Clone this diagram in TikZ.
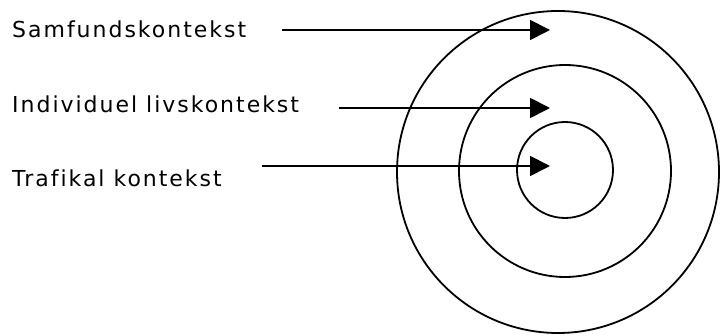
\documentclass[tikz,border=0pt]{standalone}
\usepackage{fontspec}
\setmainfont{DejaVu Sans}[LetterSpace=9,Ligatures=NoCommon]
\usepackage{tikz}
\usetikzlibrary{arrows.meta}

\tikzset{
  lbl/.style={anchor=base west, inner sep=0pt, font=\fontsize{22}{26}\selectfont},
  ring/.style={line width=1.8pt},
  pointer/.style={line width=1.8pt, -{Triangle[length=20pt,width=20pt]}}
}

\begin{document}
\begin{tikzpicture}[x=1pt,y=-1pt]
        \useasboundingbox (0,0) rectangle (720,336);
        % Define coordinates
        \coordinate (S) at (282,30);
        \coordinate (I) at (339,108);
        \coordinate (T) at (262,166);
        \coordinate (Sx) at (550,30);
        \coordinate (Ix) at (550,108);
        \coordinate (Tx) at (550,166);
        % Labels
        \node[lbl] (samf) at (12,38) {Samfundskontekst};
        \node[lbl] (indiv) at (12,113) {Individuel livskontekst};
        \node[lbl] (traf) at (12,187) {Trafikal kontekst};
        % Draw the rings
        \draw[ring] (558,172) circle (161);
        \draw[ring] (565,171) circle (106);
        \draw[ring] (565,170) circle (48);
        % Arrows into the rings
        \draw[pointer] (S) -- (Sx);
        \draw[pointer] (I) -- (Ix);
        \draw[pointer] (T) -- (Tx);
      \end{tikzpicture}
\end{document}
